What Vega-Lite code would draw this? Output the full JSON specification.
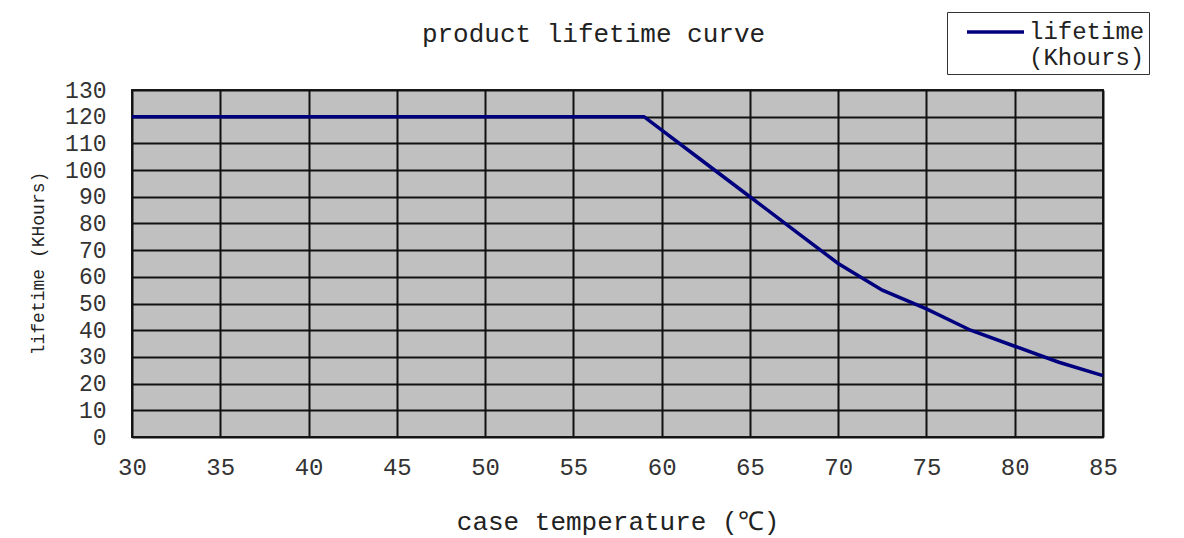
{
  "$schema": "https://vega.github.io/schema/vega-lite/v6.json",
  "autosize": {"type": "none"},
  "width": 971,
  "height": 347,
  "padding": {"left": 132, "top": 90, "right": 81, "bottom": 101},
  "background": "white",
  "title": {
    "text": "product lifetime curve",
    "font": "Liberation Mono",
    "fontSize": 26,
    "fontWeight": "normal",
    "color": "#222",
    "anchor": "middle",
    "baseline": "alphabetic",
    "dx": -24,
    "offset": -56
  },
  "data": {
    "values": [
      {"temp": 30, "life": 120, "series": "lifetime (Khours)"},
      {"temp": 59, "life": 120, "series": "lifetime (Khours)"},
      {"temp": 62, "life": 105, "series": "lifetime (Khours)"},
      {"temp": 65, "life": 90, "series": "lifetime (Khours)"},
      {"temp": 68, "life": 75, "series": "lifetime (Khours)"},
      {"temp": 70, "life": 65, "series": "lifetime (Khours)"},
      {"temp": 72.5, "life": 55, "series": "lifetime (Khours)"},
      {"temp": 75, "life": 48, "series": "lifetime (Khours)"},
      {"temp": 77.5, "life": 40, "series": "lifetime (Khours)"},
      {"temp": 80, "life": 34, "series": "lifetime (Khours)"},
      {"temp": 82.5, "life": 28, "series": "lifetime (Khours)"},
      {"temp": 85, "life": 23, "series": "lifetime (Khours)"}
    ]
  },
  "mark": {"type": "line", "strokeWidth": 3.5},
  "encoding": {
    "x": {
      "field": "temp",
      "type": "quantitative",
      "scale": {"domain": [30, 85], "nice": false, "zero": false},
      "axis": {
        "title": "case temperature (℃)",
        "values": [30, 35, 40, 45, 50, 55, 60, 65, 70, 75, 80, 85],
        "grid": true,
        "gridColor": "#111",
        "gridWidth": 2,
        "gridOpacity": 1,
        "ticks": false,
        "domain": false,
        "labelFont": "Liberation Mono",
        "labelFontSize": 24,
        "labelColor": "#333",
        "labelPadding": 18,
        "labelFlush": false,
        "titleFont": "Liberation Mono",
        "titleFontSize": 26,
        "titleFontWeight": "normal",
        "titleColor": "#222",
        "titlePadding": 29
      }
    },
    "y": {
      "field": "life",
      "type": "quantitative",
      "scale": {"domain": [0, 130], "nice": false},
      "axis": {
        "title": "lifetime (KHours)",
        "values": [0, 10, 20, 30, 40, 50, 60, 70, 80, 90, 100, 110, 120, 130],
        "grid": true,
        "gridColor": "#111",
        "gridWidth": 2,
        "gridOpacity": 1,
        "ticks": false,
        "domain": false,
        "labelFont": "Liberation Mono",
        "labelFontSize": 23,
        "labelColor": "#333",
        "labelPadding": 26,
        "labelFlush": false,
        "titleFont": "Liberation Mono",
        "titleFontSize": 18,
        "titleFontWeight": "normal",
        "titleColor": "#222",
        "titleX": -94,
        "titleY": 173,
        "titleAngle": -90,
        "titleAlign": "center",
        "titleBaseline": "middle"
      }
    },
    "color": {
      "field": "series",
      "type": "nominal",
      "scale": {"range": ["#00007f"]},
      "legend": {
        "title": null,
        "orient": "none",
        "legendX": 815,
        "legendY": -78,
        "strokeColor": "#333",
        "fillColor": "white",
        "padding": 4,
        "symbolType": "M0,0L4,0",
        "symbolSize": 812,
        "symbolStrokeWidth": 3.5,
        "symbolFillColor": "transparent",
        "labelExpr": "['lifetime', ' (Khours)']",
        "labelFont": "Liberation Mono",
        "labelFontSize": 24,
        "labelColor": "#222",
        "labelLimit": 300,
        "labelOffset": 46,
        "encode": {"labels": {"update": {"lineHeight": {"value": 26}}}}
      }
    }
  },
  "config": {
    "view": {"fill": "#c0c0c0", "stroke": "#222", "strokeWidth": 2}
  }
}
